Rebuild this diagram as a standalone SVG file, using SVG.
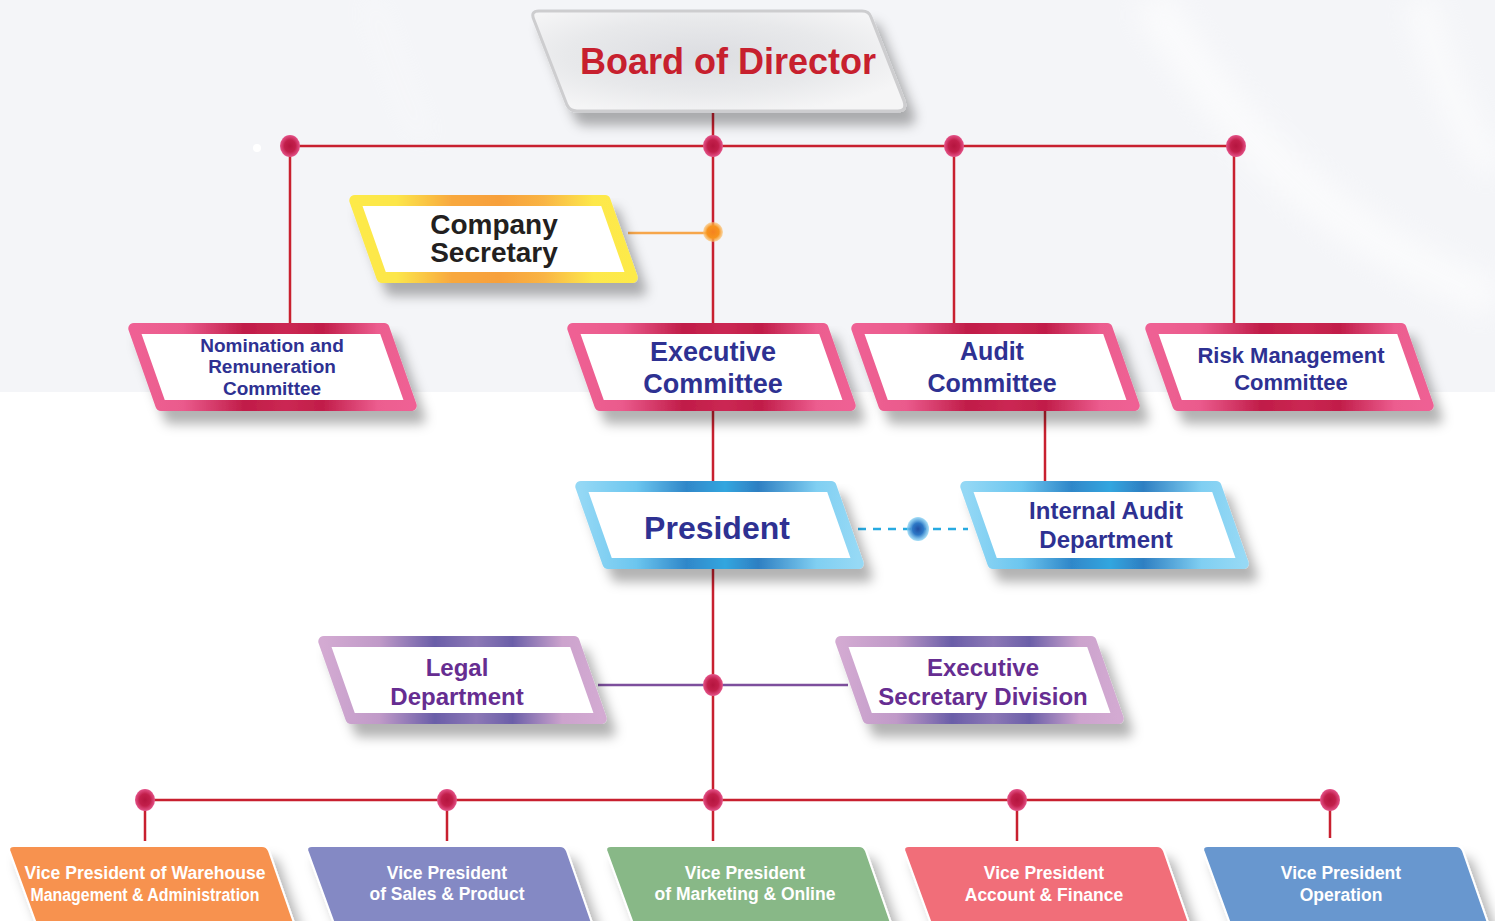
<svg xmlns="http://www.w3.org/2000/svg" width="1495" height="921" viewBox="0 0 1495 921">
  <defs>
    <style>
      .t{font-family:"Liberation Sans",Arial,sans-serif;font-weight:bold;text-anchor:middle}
      .navy{fill:#2e3192}
      .plum{fill:#662d91}
      .vp{fill:#ffffff;font-size:17.5px}
      .wire{stroke:#c8202f;stroke-width:2.5;fill:none}
      .frame{fill:#ffffff;stroke-width:11;stroke-linejoin:round}
      .tile{stroke:#ffffff;stroke-width:2}
    </style>
    <!-- slanted frame, drawn on the centre line of its 11px border -->
    <path id="pg" d="M7.8,5.5 L258.1,5.5 L285.2,82.5 L34.9,82.5 Z"/>
    <!-- solid tile used along the bottom row -->
    <path id="tileShape" d="M6,0 L254,0 Q259,0 261,5 L292,94 L34,94 L1.5,5 Q0,0 6,0 Z"/>

    <linearGradient id="gPink" x1="0" y1="0" x2="1" y2="0">
      <stop offset="0" stop-color="#ef6194"/>
      <stop offset="0.18" stop-color="#ea5a8c"/>
      <stop offset="0.4" stop-color="#c01c48"/>
      <stop offset="0.55" stop-color="#cb2853"/>
      <stop offset="0.68" stop-color="#c11d49"/>
      <stop offset="0.88" stop-color="#ec5d8f"/>
      <stop offset="1" stop-color="#ef6194"/>
    </linearGradient>
    <linearGradient id="gGold" x1="0" y1="0" x2="1" y2="0">
      <stop offset="0" stop-color="#fdea4a"/>
      <stop offset="0.15" stop-color="#fce64a"/>
      <stop offset="0.35" stop-color="#f8a83e"/>
      <stop offset="0.52" stop-color="#f7a03b"/>
      <stop offset="0.68" stop-color="#f9b444"/>
      <stop offset="0.86" stop-color="#fde84b"/>
      <stop offset="1" stop-color="#fdea4a"/>
    </linearGradient>
    <linearGradient id="gSky" x1="0" y1="0" x2="1" y2="0">
      <stop offset="0" stop-color="#94d8f5"/>
      <stop offset="0.2" stop-color="#6cc6ef"/>
      <stop offset="0.38" stop-color="#2f87c9"/>
      <stop offset="0.52" stop-color="#33a6df"/>
      <stop offset="0.64" stop-color="#2e7fc2"/>
      <stop offset="0.85" stop-color="#80cff2"/>
      <stop offset="1" stop-color="#96d9f5"/>
    </linearGradient>
    <linearGradient id="gLilac" x1="0" y1="0" x2="1" y2="0">
      <stop offset="0" stop-color="#d3aad2"/>
      <stop offset="0.2" stop-color="#c09ac8"/>
      <stop offset="0.4" stop-color="#6a5ea8"/>
      <stop offset="0.55" stop-color="#8c78b6"/>
      <stop offset="0.68" stop-color="#6b5fa8"/>
      <stop offset="0.86" stop-color="#cca3cd"/>
      <stop offset="1" stop-color="#d3aad2"/>
    </linearGradient>
    <radialGradient id="gBoard" cx="0.45" cy="0.45" r="0.6">
      <stop offset="0" stop-color="#dcdde1"/>
      <stop offset="0.6" stop-color="#e8e9eb"/>
      <stop offset="1" stop-color="#f5f5f6"/>
    </radialGradient>
    <radialGradient id="dotRed" cx="0.5" cy="0.5" r="0.5">
      <stop offset="0" stop-color="#b5153f"/>
      <stop offset="0.55" stop-color="#c21f4b"/>
      <stop offset="1" stop-color="#e4548a"/>
    </radialGradient>
    <radialGradient id="dotOrange" cx="0.5" cy="0.5" r="0.5">
      <stop offset="0" stop-color="#f58220"/>
      <stop offset="0.6" stop-color="#f7941d"/>
      <stop offset="1" stop-color="#fbc170" stop-opacity="0.6"/>
    </radialGradient>
    <radialGradient id="dotBlue" cx="0.5" cy="0.5" r="0.5">
      <stop offset="0" stop-color="#1f4fa3"/>
      <stop offset="0.5" stop-color="#2d78c6"/>
      <stop offset="1" stop-color="#7fd0f4" stop-opacity="0.7"/>
    </radialGradient>

    <filter id="shadow" x="-10%" y="-20%" width="135%" height="170%">
      <feGaussianBlur in="SourceAlpha" stdDeviation="6"/>
      <feOffset dx="9" dy="13" result="off"/>
      <feFlood flood-color="#000" flood-opacity="0.3"/>
      <feComposite in2="off" operator="in"/>
      <feMerge>
        <feMergeNode/>
        <feMergeNode in="SourceGraphic"/>
      </feMerge>
    </filter>
    <filter id="haze" x="-20%" y="-20%" width="140%" height="140%">
      <feGaussianBlur stdDeviation="14"/>
    </filter>
  </defs>

  <!-- backdrop -->
  <rect width="1495" height="921" fill="#ffffff"/>
  <rect width="1495" height="392" fill="#f4f5f8"/>
  <g fill="none" stroke="#ffffff" filter="url(#haze)" opacity="0.6">
    <path d="M1150,0 C1230,120 1300,220 1495,300" stroke-width="40"/>
    <path d="M1420,0 C1440,80 1470,140 1495,170" stroke-width="30"/>
    <path d="M370,0 C385,40 400,90 425,140" stroke-width="8"/>
  </g>
  <circle cx="257" cy="148" r="4" fill="#ffffff"/>

  <!-- connectors -->
  <g id="connectors">
    <path class="wire" d="M713,113 V323 M713,411 V481 M713,569 V841"/>
    <path class="wire" d="M290,146 H1236"/>
    <path class="wire" d="M290,146 V323 M954,146 V323 M1234,146 V323"/>
    <path class="wire" d="M1045,411 V481"/>
    <path class="wire" d="M145,800 H1330"/>
    <path class="wire" d="M145,800 V841 M447,800 V841 M1017,800 V841 M1330,800 V838"/>
    <path d="M628,233 H713" stroke="#f6a64b" stroke-width="2.5" fill="none"/>
    <path d="M598,685 H848" stroke="#7d4f9d" stroke-width="2.5" fill="none"/>
    <path d="M858,529 H968" stroke="#27aae1" stroke-width="2.5" stroke-dasharray="8 7" fill="none"/>

    <g fill="url(#dotRed)">
      <ellipse cx="290" cy="146" rx="10" ry="11"/>
      <ellipse cx="713" cy="146" rx="10" ry="11"/>
      <ellipse cx="954" cy="146" rx="10" ry="11"/>
      <ellipse cx="1236" cy="146" rx="10" ry="11"/>
      <ellipse cx="713" cy="685" rx="10" ry="11"/>
      <ellipse cx="145" cy="800" rx="10" ry="11"/>
      <ellipse cx="447" cy="800" rx="10" ry="11"/>
      <ellipse cx="713" cy="800" rx="10" ry="11"/>
      <ellipse cx="1017" cy="800" rx="10" ry="11"/>
      <ellipse cx="1330" cy="800" rx="10" ry="11"/>
    </g>
    <circle cx="713" cy="232" r="10" fill="url(#dotOrange)"/>
    <ellipse cx="918" cy="529" rx="11" ry="12" fill="url(#dotBlue)"/>
  </g>

  <!-- board -->
  <g id="board">
    <path d="M539,11 L862,11 Q869,11 871,17 L904,101 Q907,111 898,111 L577,111 Q570,111 567,105 L534,20 Q530,11 539,11 Z"
          fill="url(#gBoard)" stroke="#cdcdcf" stroke-width="3" filter="url(#shadow)"/>
    <text class="t" x="728" y="74" font-size="36" fill="#c7202e">Board of Director</text>
  </g>

  <!-- company secretary -->
  <g id="company-secretary">
    <use href="#pg" transform="translate(347,195)" class="frame" stroke="url(#gGold)" filter="url(#shadow)"/>
    <text class="t" x="494" y="234" font-size="28" fill="#231f20">Company</text>
    <text class="t" x="494" y="262" font-size="28" fill="#231f20">Secretary</text>
  </g>

  <!-- committees -->
  <g id="nomination-committee">
    <use href="#pg" transform="translate(126,323)" class="frame" stroke="url(#gPink)" filter="url(#shadow)"/>
    <text class="t navy" x="272" y="352" font-size="19">Nomination and</text>
    <text class="t navy" x="272" y="373" font-size="19">Remuneration</text>
    <text class="t navy" x="272" y="395" font-size="19">Committee</text>
  </g>
  <g id="executive-committee">
    <use href="#pg" transform="translate(565,323)" class="frame" stroke="url(#gPink)" filter="url(#shadow)"/>
    <text class="t navy" x="713" y="361" font-size="27">Executive</text>
    <text class="t navy" x="713" y="393" font-size="27">Committee</text>
  </g>
  <g id="audit-committee">
    <use href="#pg" transform="translate(849,323)" class="frame" stroke="url(#gPink)" filter="url(#shadow)"/>
    <text class="t navy" x="992" y="360" font-size="25">Audit</text>
    <text class="t navy" x="992" y="392" font-size="25">Committee</text>
  </g>
  <g id="risk-committee">
    <use href="#pg" transform="translate(1143,323)" class="frame" stroke="url(#gPink)" filter="url(#shadow)"/>
    <text class="t navy" x="1291" y="363" font-size="22">Risk Management</text>
    <text class="t navy" x="1291" y="390" font-size="22">Committee</text>
  </g>

  <!-- president row -->
  <g id="president">
    <use href="#pg" transform="translate(573,481)" class="frame" stroke="url(#gSky)" filter="url(#shadow)"/>
    <text class="t navy" x="717" y="539" font-size="32">President</text>
  </g>
  <g id="internal-audit">
    <use href="#pg" transform="translate(958,481)" class="frame" stroke="url(#gSky)" filter="url(#shadow)"/>
    <text class="t navy" x="1106" y="519" font-size="24">Internal Audit</text>
    <text class="t navy" x="1106" y="548" font-size="24">Department</text>
  </g>

  <!-- staff units -->
  <g id="legal">
    <use href="#pg" transform="translate(316,636)" class="frame" stroke="url(#gLilac)" filter="url(#shadow)"/>
    <text class="t plum" x="457" y="676" font-size="24">Legal</text>
    <text class="t plum" x="457" y="705" font-size="24">Department</text>
  </g>
  <g id="executive-secretary">
    <use href="#pg" transform="translate(833,636)" class="frame" stroke="url(#gLilac)" filter="url(#shadow)"/>
    <text class="t plum" x="983" y="676" font-size="24">Executive</text>
    <text class="t plum" x="983" y="705" font-size="24">Secretary Division</text>
  </g>

  <!-- vice presidents -->
  <g id="vp-warehouse">
    <use href="#tileShape" transform="translate(8,846)" class="tile" fill="#f7924f" filter="url(#shadow)"/>
    <text class="t vp" x="145" y="879" textLength="241" lengthAdjust="spacingAndGlyphs">Vice President of Warehouse</text>
    <text class="t vp" x="145" y="901" textLength="229" lengthAdjust="spacingAndGlyphs">Management &amp; Administration</text>
  </g>
  <g id="vp-sales">
    <use href="#tileShape" transform="translate(306,846)" class="tile" fill="#8489c4" filter="url(#shadow)"/>
    <text class="t vp" x="447" y="879">Vice President</text>
    <text class="t vp" x="447" y="900" textLength="155" lengthAdjust="spacingAndGlyphs">of Sales &amp; Product</text>
  </g>
  <g id="vp-marketing">
    <use href="#tileShape" transform="translate(605,846)" class="tile" fill="#88b887" filter="url(#shadow)"/>
    <text class="t vp" x="745" y="879">Vice President</text>
    <text class="t vp" x="745" y="900">of Marketing &amp; Online</text>
  </g>
  <g id="vp-finance">
    <use href="#tileShape" transform="translate(903,846)" class="tile" fill="#f16e79" filter="url(#shadow)"/>
    <text class="t vp" x="1044" y="879">Vice President</text>
    <text class="t vp" x="1044" y="901">Account &amp; Finance</text>
  </g>
  <g id="vp-operation">
    <use href="#tileShape" transform="translate(1202,846)" class="tile" fill="#6897cf" filter="url(#shadow)"/>
    <text class="t vp" x="1341" y="879">Vice President</text>
    <text class="t vp" x="1341" y="901">Operation</text>
  </g>
</svg>
